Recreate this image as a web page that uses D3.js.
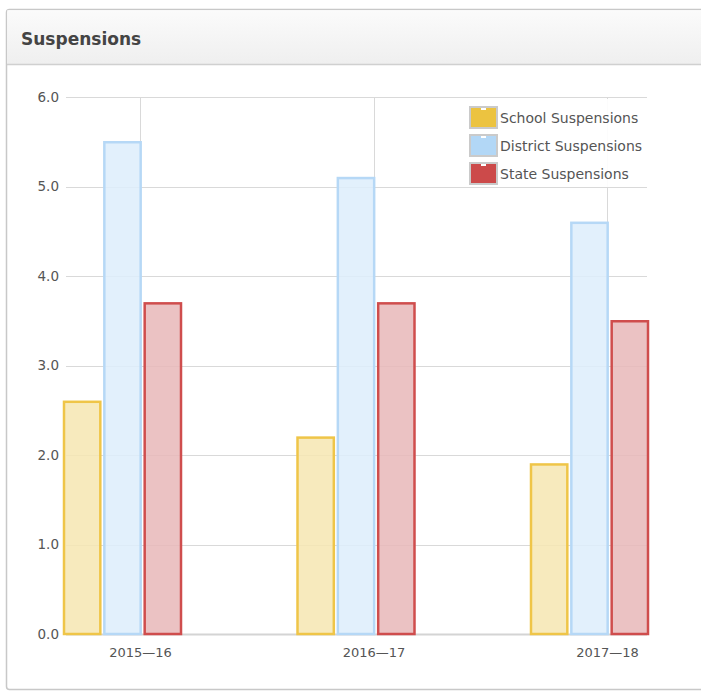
<!DOCTYPE html>
<html><head><meta charset="utf-8">
<script src="https://cdn.jsdelivr.net/npm/d3@7"></script>
<style>
html,body{margin:0;padding:0;background:#fff;}
svg{display:block;}
</style></head>
<body>
<script>
const categories = ["2015\u201416", "2016\u201417", "2017\u201418"];
const seriesNames = ["School Suspensions", "District Suspensions", "State Suspensions"];
const schoolValues = [2.6, 2.2, 1.9];
const districtValues = [5.5, 5.1, 4.6];
const stateValues = [3.7, 3.7, 3.5];
const yTicks = [0, 1, 2, 3, 4, 5, 6];
const title = "Suspensions";

const strokeColors = ["#efc548", "#b6d8f6", "#cf4d4d"];
const fillColors = ["#f6e6b2", "#ddedfb", "#e8b7b8"];
const swatchColors = ["#ecc340", "#b2d7f6", "#cc4a4a"];

const W = 701, H = 693;
const svg = d3.select("body").append("svg").attr("width", W).attr("height", H);

const defs = svg.append("defs");
const grad = defs.append("linearGradient").attr("id", "hdr").attr("x1", 0).attr("y1", 0).attr("x2", 0).attr("y2", 1);
grad.append("stop").attr("offset", "0%").attr("stop-color", "#fbfbfb");
grad.append("stop").attr("offset", "100%").attr("stop-color", "#efefef");

svg.append("rect").attr("x", 6.5).attr("y", 9.5).attr("width", 720).attr("height", 680)
  .attr("rx", 3).attr("fill", "#fff").attr("stroke", "#c8c8c8").attr("stroke-width", 1.5);
svg.append("rect").attr("x", 7.2).attr("y", 10.2).attr("width", 720).attr("height", 54)
  .attr("fill", "url(#hdr)");
svg.append("line").attr("x1", 7).attr("x2", W).attr("y1", 64.5).attr("y2", 64.5)
  .attr("stroke", "#d0d0d0").attr("stroke-width", 1.5);
svg.append("text").attr("x", 21).attr("y", 45).text(title)
  .attr("font-family", "DejaVu Sans, Verdana, sans-serif").attr("font-weight", "bold")
  .attr("font-size", 17).attr("fill", "#444");

const plotL = 66, plotR = 647, plotT = 97, plotB = 634;
const y = d3.scaleLinear().domain([0, 6]).range([plotB, plotT]);
const x = d3.scalePoint().domain(categories).range([140, 607]);
const xs = d3.scaleBand().domain(seriesNames).range([-77, 42]).paddingInner(0.05);

const font = "DejaVu Sans, Verdana, sans-serif";

const g = svg.append("g");
g.selectAll("line.h").data(yTicks).join("line")
  .attr("x1", plotL).attr("x2", plotR)
  .attr("y1", d => Math.round(y(d)) + 0.5).attr("y2", d => Math.round(y(d)) + 0.5)
  .attr("stroke", d => d === 0 ? "#d4d4d4" : "#d9d9d9").attr("stroke-width", d => d === 0 ? 2 : 1);
g.selectAll("line.v").data(categories).join("line")
  .attr("x1", d => Math.round(x(d)) + 0.5).attr("x2", d => Math.round(x(d)) + 0.5)
  .attr("y1", plotT).attr("y2", plotB)
  .attr("stroke", "#d9d9d9");

const yAxis = d3.axisLeft(y).tickValues(yTicks).tickFormat(d3.format(".1f")).tickSize(0).tickPadding(7);
const ya = svg.append("g").attr("transform", `translate(${plotL},0)`).call(yAxis);
ya.select(".domain").remove();
ya.selectAll("text").attr("font-family", font).attr("font-size", 13.5).attr("fill", "#555");

const xAxis = d3.axisBottom(x).tickSize(0).tickPadding(14);
const xa = svg.append("g").attr("transform", `translate(0,${plotB})`).call(xAxis);
xa.select(".domain").remove();
xa.selectAll("text").attr("font-family", font).attr("font-size", 13).attr("fill", "#555");

const series = [schoolValues, districtValues, stateValues];
series.forEach((vals, si) => {
  svg.append("g").selectAll("rect").data(categories).join("rect")
    .attr("x", (c) => x(c) + xs(seriesNames[si]) + 1)
    .attr("y", (c, i) => y(vals[i]) + 0.5)
    .attr("width", xs.bandwidth() - 2)
    .attr("height", (c, i) => y(0) - y(vals[i]) - 0.5)
    .attr("fill", fillColors[si]).attr("fill-opacity", 0.85)
    .attr("stroke", strokeColors[si]).attr("stroke-width", 2.5);
});

const lg = svg.append("g");
lg.append("rect").attr("x", 467).attr("y", 99).attr("width", 172).attr("height", 88)
  .attr("fill", "#fff").attr("fill-opacity", 0.9);
seriesNames.forEach((name, i) => {
  const yy = 107 + i * 28;
  lg.append("rect").attr("x", 470).attr("y", yy).attr("width", 27).attr("height", 21)
    .attr("fill", swatchColors[i]).attr("stroke", "#cacaca").attr("stroke-width", 2);
  lg.append("rect").attr("x", 481).attr("y", yy + 1).attr("width", 5).attr("height", 2).attr("fill", "#fff");
  lg.append("text").attr("x", 500).attr("y", yy + 16).text(name)
    .attr("font-family", font).attr("font-size", 14).attr("fill", "#555");
});
</script>
</body></html>
